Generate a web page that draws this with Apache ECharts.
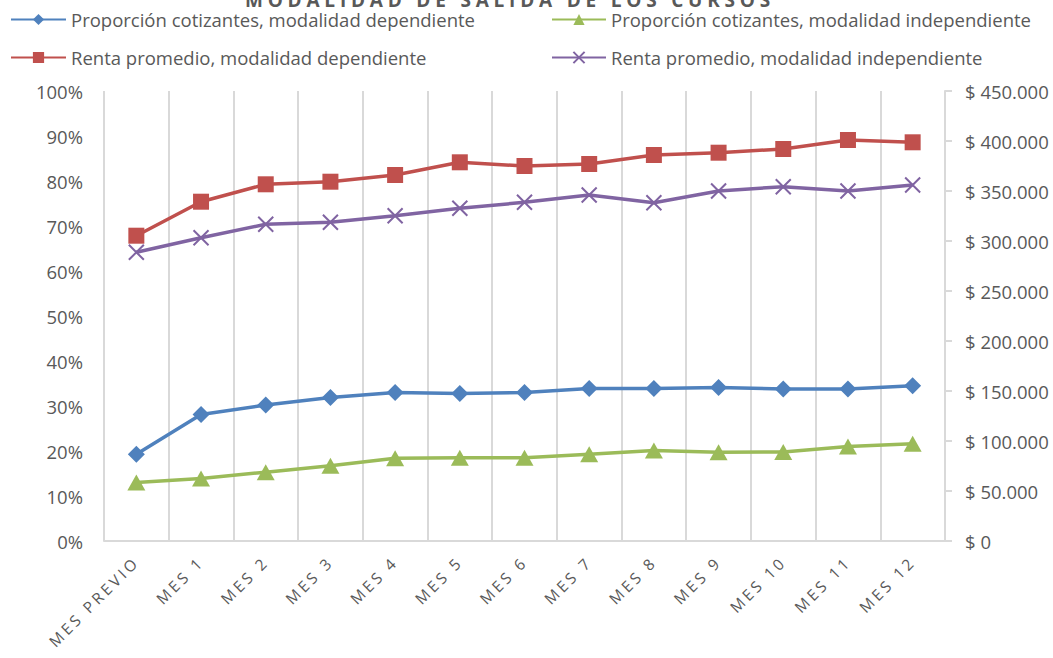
<!DOCTYPE html>
<html>
<head>
<meta charset="utf-8">
<script src="https://cdn.jsdelivr.net/npm/echarts@6/dist/echarts.min.js"></script>
<style>
html,body{margin:0;padding:0;background:#fff;}
#chart{width:1053px;height:658px;}
</style>
</head>
<body>
<div id="chart"></div>
<script>
// ---- data ----
const titleText = 'MODALIDAD DE SALIDA DE LOS CURSOS';
const categories = ['MES PREVIO','MES 1','MES 2','MES 3','MES 4','MES 5','MES 6','MES 7','MES 8','MES 9','MES 10','MES 11','MES 12'];
const seriesNames = [
  'Proporción cotizantes, modalidad dependiente',
  'Proporción cotizantes, modalidad independiente',
  'Renta promedio, modalidad dependiente',
  'Renta promedio, modalidad independiente'
];
const propDep = [19.3, 28.1, 30.2, 31.9, 33.0, 32.8, 33.0, 33.9, 33.9, 34.1, 33.8, 33.8, 34.5];
const propInd = [13.0, 13.9, 15.3, 16.7, 18.4, 18.5, 18.5, 19.3, 20.1, 19.7, 19.8, 21.0, 21.6];
const rentaDep = [305300, 339300, 356700, 359300, 366000, 378700, 375000, 377000, 386000, 388300, 392000, 401000, 398700];
const rentaInd = [288700, 303300, 316700, 318700, 325300, 332700, 338700, 346000, 338300, 350000, 354300, 350000, 356000];

const FONT = '"Open Sans", sans-serif';
const GRAY = '#595959';
const LINEGRAY = '#d9d9d9';
const colors = ['#4f81bd', '#9bbb59', '#c0504d', '#8064a2'];

function money(v) {
  return '$ ' + String(v).replace(/\B(?=(\d{3})+(?!\d))/g, '.');
}

const chart = echarts.init(document.getElementById('chart'), null, {renderer: 'svg'});

function legendAt(name, left, top, w) {
  return {
    data: [name], left: left, top: top, padding: 0,
    itemWidth: w, itemHeight: 14, itemGap: 0,
    textStyle: {color: GRAY, fontSize: 18.5, fontFamily: FONT}
  };
}

const xSymbol = 'path://M0,0L10,10M10,0L0,10';

chart.setOption({
  animation: false,
  color: colors,
  title: {
    text: titleText, left: 510, top: -10, padding: 0, textAlign: 'center',
    textStyle: {color: GRAY, fontSize: 19, fontWeight: 'bold', fontFamily: FONT}
  },
  legend: [
    legendAt(seriesNames[0], 10, 10, 55),
    legendAt(seriesNames[1], 551, 10, 54),
    legendAt(seriesNames[2], 10, 48, 55),
    legendAt(seriesNames[3], 551, 48, 54)
  ],
  grid: {left: 104, right: 108, top: 91, bottom: 117, containLabel: false},
  xAxis: {
    type: 'category', data: categories, boundaryGap: true,
    axisLine: {show: true, lineStyle: {color: LINEGRAY, width: 2}},
    axisTick: {show: false},
    splitLine: {show: true, interval: 0, lineStyle: {color: LINEGRAY, width: 2}},
    axisLabel: {interval: 0, rotate: 45, margin: 18, color: GRAY, fontSize: 15.5, fontFamily: FONT}
  },
  yAxis: [
    {
      type: 'value', min: 0, max: 100, interval: 10, position: 'left',
      axisLine: {show: false}, axisTick: {show: false}, splitLine: {show: false},
      axisLabel: {formatter: '{value}%', color: GRAY, fontSize: 18.5, fontFamily: FONT, margin: 21}
    },
    {
      type: 'value', min: 0, max: 450000, interval: 50000, position: 'right',
      axisLine: {show: true, lineStyle: {color: LINEGRAY, width: 2}},
      axisTick: {show: true, inside: false, length: 7, lineStyle: {color: LINEGRAY, width: 2}},
      splitLine: {show: false},
      axisLabel: {formatter: money, color: GRAY, fontSize: 18.5, fontFamily: FONT, margin: 20}
    }
  ],
  series: [
    {
      name: seriesNames[0], type: 'line', yAxisIndex: 0, data: propDep,
      symbol: 'diamond', symbolSize: 17,
      lineStyle: {width: 3.5, color: colors[0]}, itemStyle: {color: colors[0]}
    },
    {
      name: seriesNames[1], type: 'line', yAxisIndex: 0, data: propInd,
      symbol: 'triangle', symbolSize: [18, 16],
      lineStyle: {width: 3.5, color: colors[1]}, itemStyle: {color: colors[1]}
    },
    {
      name: seriesNames[2], type: 'line', yAxisIndex: 1, data: rentaDep,
      symbol: 'rect', symbolSize: 16,
      lineStyle: {width: 3.5, color: colors[2]}, itemStyle: {color: colors[2]}
    },
    {
      name: seriesNames[3], type: 'line', yAxisIndex: 1, data: rentaInd,
      symbol: xSymbol, symbolSize: 15,
      lineStyle: {width: 3.5, color: colors[3]},
      itemStyle: {color: colors[3], borderColor: colors[3], borderWidth: 2}
    }
  ]
});

// spaced-out lettering for the title and the category labels (as in the original)
function applySpacing() {
  const texts = document.querySelectorAll('#chart svg text');
  texts.forEach(t => {
    const s = t.textContent;
    if (s === titleText) t.setAttribute('letter-spacing', '4.8px');
    else if (categories.indexOf(s) >= 0) t.setAttribute('letter-spacing', '3.2px');
  });
}
chart.on('finished', applySpacing);
applySpacing();
setTimeout(applySpacing, 50);
</script>
</body>
</html>
